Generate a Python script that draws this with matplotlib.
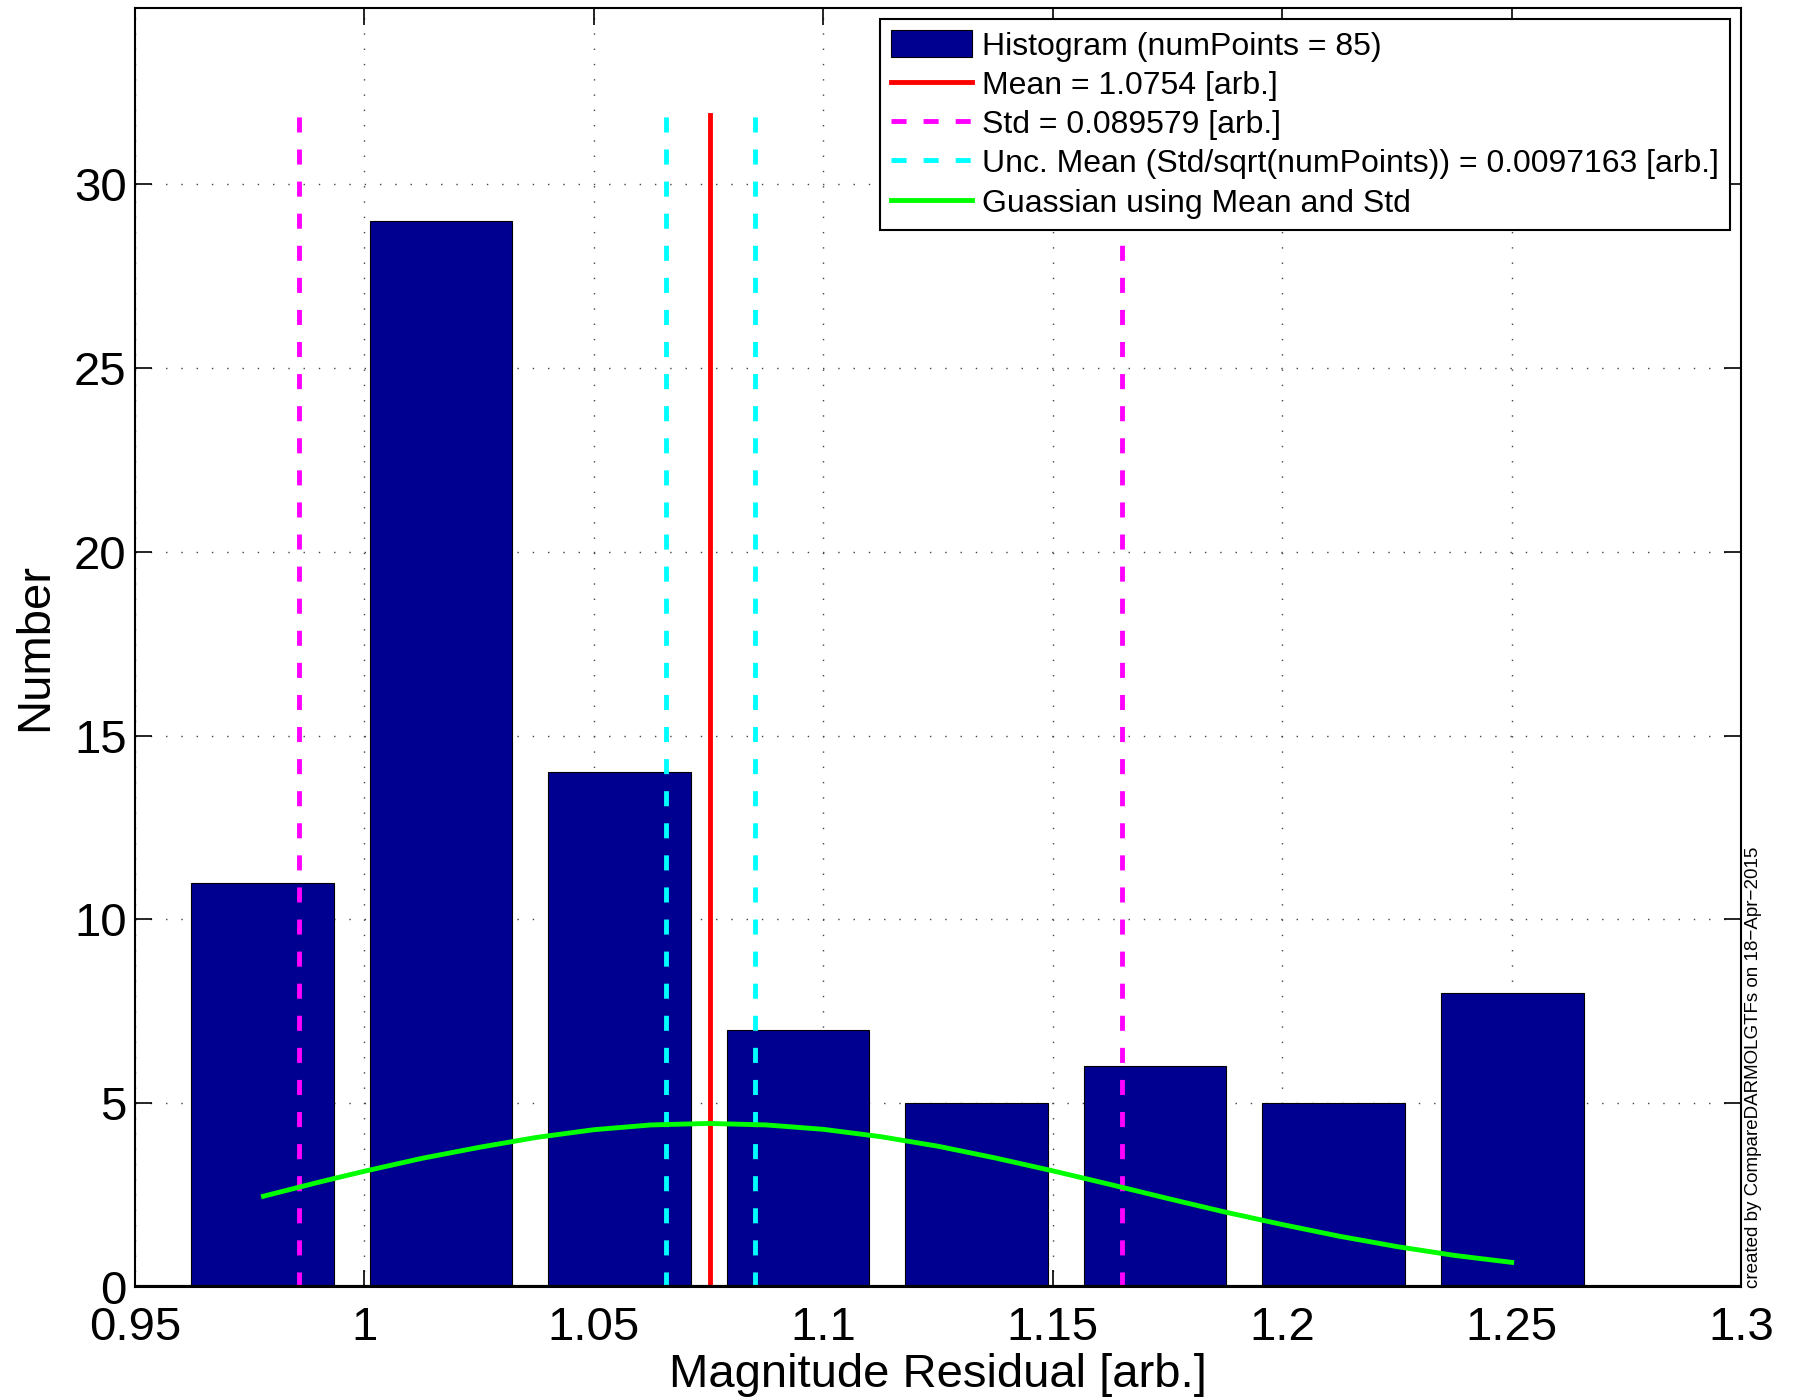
"""
Histogram of magnitude residuals with mean, std and Gaussian overlay.
"""
import matplotlib
matplotlib.use("Agg")
import matplotlib.pyplot as plt

# histogram bins (centres) and counts
bin_centers = [0.9778, 1.0167, 1.0556, 1.0945, 1.1334, 1.1723, 1.2112, 1.2501]
counts = [11, 29, 14, 7, 5, 6, 5, 8]

# statistics shown as vertical lines
mean_val = 1.0754
std_lines = [0.9858, 1.1650]
unc_lines = [1.0657, 1.0851]
line_top = 31.9

# gaussian curve
gauss_x = [0.978, 0.99, 1.0, 1.0125, 1.025, 1.0375, 1.05, 1.0625, 1.075, 1.0875,
           1.1, 1.1125, 1.125, 1.1375, 1.15, 1.1625, 1.175, 1.1875, 1.2, 1.2125,
           1.225, 1.2375, 1.25]
gauss_y = [2.47, 2.85, 3.15, 3.5, 3.8, 4.07, 4.28, 4.41, 4.45, 4.41,
           4.29, 4.09, 3.83, 3.51, 3.16, 2.79, 2.41, 2.04, 1.70, 1.38,
           1.10, 0.86, 0.67]

x_ticks = [0.95, 1.0, 1.05, 1.1, 1.15, 1.2, 1.25, 1.3]
x_tick_labels = ["0.95", "1", "1.05", "1.1", "1.15", "1.2", "1.25", "1.3"]
y_ticks = [0, 5, 10, 15, 20, 25, 30]

plt.rcParams["font.family"] = ["Liberation Sans", "DejaVu Sans"]

fig = plt.figure(figsize=(17.95, 13.98), dpi=100)
ax = fig.add_axes([0.0752, 0.0794, 0.8948, 0.9149])

h_bar = ax.bar(bin_centers, counts, width=0.0311, color="#000090", edgecolor="black",
               linewidth=0.8, zorder=2)

h_mean, = ax.plot([mean_val, mean_val], [0, line_top], color="red", lw=3.5, zorder=4)
for xv in std_lines:
    h_std, = ax.plot([xv, xv], [0, line_top], color="magenta", lw=3.5,
                     dashes=(3.1, 3.5), zorder=3)
for xv in unc_lines:
    h_unc, = ax.plot([xv, xv], [0, line_top], color="cyan", lw=3.5,
                     dashes=(3.1, 3.5), zorder=3)
h_gauss, = ax.plot(gauss_x, gauss_y, color="#00ff00", lw=3.5, zorder=5)

# baseline of the bars
ax.axhline(0, color="black", lw=3, zorder=6)

ax.set_xlim(0.95, 1.3)
ax.set_ylim(0, 34.8)
ax.set_xticks(x_ticks)
ax.set_xticklabels(x_tick_labels)
ax.set_yticks(y_ticks)
ax.tick_params(direction="in", length=12, width=1.2, labelsize=34,
               top=True, right=True, pad=6)
ax.tick_params(axis="x", pad=14)
ax.grid(True, linestyle=(0, (1, 10)), color="#444444", lw=1.0)
ax.set_axisbelow(True)
for s in ax.spines.values():
    s.set_linewidth(1.5)

ax.set_xlabel("Magnitude Residual [arb.]", fontsize=34, labelpad=2)
ax.set_ylabel("Number", fontsize=34, labelpad=12)

labels = ["Histogram (numPoints = 85)", "Mean = 1.0754 [arb.]",
          "Std = 0.089579 [arb.]",
          "Unc. Mean (Std/sqrt(numPoints)) = 0.0097163 [arb.]",
          "Guassian using Mean and Std"]
leg = ax.legend([h_bar, h_mean, h_std, h_unc, h_gauss], labels,
                loc="upper right", fontsize=23, frameon=True, fancybox=False,
                handlelength=2.55, handleheight=0.9, handletextpad=0.3,
                borderpad=0.35, labelspacing=0.25, borderaxespad=0.35)
leg.get_frame().set_edgecolor("black")
leg.get_frame().set_linewidth(1.5)
leg.get_frame().set_alpha(1)

fig.text(0.977, 0.079, "created by CompareDARMOLGTFs on 18\u2212Apr\u22122015",
         rotation=90, fontsize=13.5, ha="center", va="bottom")

fig.savefig("out.png", dpi=100)
